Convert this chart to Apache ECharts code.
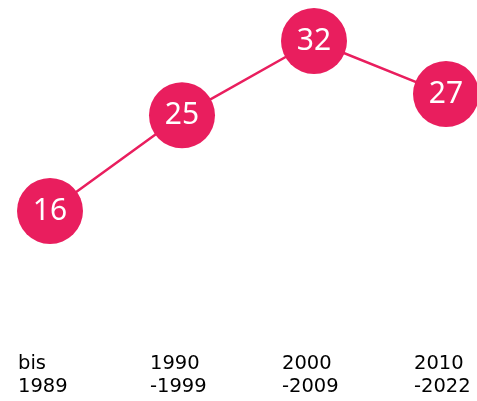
<!DOCTYPE html>
<html>
<head>
<meta charset="utf-8">
<script src="https://cdn.jsdelivr.net/npm/echarts@6/dist/echarts.min.js"></script>
<style>
  html, body { margin: 0; padding: 0; background: #fff; }
  #chart { width: 477px; height: 401px; }
</style>
</head>
<body>
<div id="chart"></div>
<script>
// Zeiträume und Werte
const categories = ["bis\n1989", "1990\n-1999", "2000\n-2009", "2010\n-2022"];
const values = [16, 25, 32, 27];

const pink = "#e91e5e";

const chart = echarts.init(document.getElementById("chart"));
const option = {
  animation: false,
  grid: {
    left: 50,
    right: 31,
    top: 9.1,
    bottom: 126.25,
  },
  xAxis: {
    type: "category",
    data: categories,
    boundaryGap: false,
    axisLine: { show: false },
    axisTick: { show: false },
    splitLine: { show: false },
    axisLabel: {
      align: "left",
      margin: 78,
      padding: [0, 0, 0, -32],
      fontFamily: "DejaVu Sans",
      fontSize: 19.5,
      lineHeight: 23,
      color: "#000",
    },
  },
  yAxis: {
    type: "value",
    min: 10,
    max: 35,
    show: false,
  },
  series: [
    {
      type: "line",
      data: values,
      symbol: "circle",
      symbolSize: 66,
      lineStyle: { color: pink, width: 2.5 },
      itemStyle: { color: pink },
      label: {
        show: true,
        position: "inside",
        color: "#fff",
        fontFamily: "Noto Sans",
        fontSize: 30,
      },
    },
  ],
};
chart.setOption(option);
</script>
</body>
</html>
